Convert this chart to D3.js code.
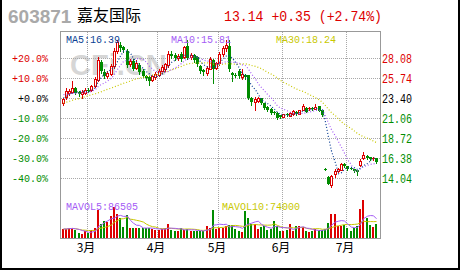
<!DOCTYPE html>
<html>
<head>
<meta charset="utf-8">
<script src="https://cdn.jsdelivr.net/npm/d3@7"></script>
<style>
body { margin: 0; background: #fff; }
svg { display: block; }
.mono { font-family: "Liberation Mono", "DejaVu Sans Mono", monospace; }
.cjk { font-family: "Noto Sans CJK SC", sans-serif; }
</style>
</head>
<body>
<svg id="chart" width="460" height="270"></svg>
<script>
// daily bars, oldest first
const opens = [22.9, 23.6, 24.0, 24.2, 24.6, 24.2, 23.9, 24.1, 24.4, 24.4, 24.9, 25.6, 27.7, 26.5, 26.0, 26.3, 27.2, 28.9, 29.7, 29.4,
  29.0, 27.4, 27.8, 27.0, 27.3, 26.6, 26.0, 25.9, 25.6, 25.9, 26.1, 26.6, 26.8, 27.3, 28.6, 28.5, 28.1, 28.6, 28.2, 29.6,
  28.2, 28.5, 28.3, 27.2, 26.7, 26.4, 26.9, 27.9, 27.0, 27.5, 28.6, 29.3, 29.6, 26.4, 26.2, 26.6, 25.9, 26.2, 26.1, 23.5,
  22.95, 23.15, 23.45, 22.85, 22.4, 22.2, 21.8, 21.7, 21.45, 21.25, 21.62, 21.35, 21.6, 21.85, 21.6, 22.05, 22.3, 22.15, 22.3, 22.2,
  22.5, 22.05, 15.15, 14.25, 13.3, 14.6, 14.9, 15.05, 15.74, 15.45, 15.3, 15.15, 15.0, 15.62, 16.44, 16.67, 16.5, 16.32, 16.4];
const highs = [23.5, 24.6, 24.5, 25.5, 24.8, 24.3, 24.4, 24.6, 24.6, 25.0, 25.9, 28.2, 27.9, 26.8, 26.6, 27.4, 29.3, 30.3, 30.0, 29.6,
  29.2, 28.0, 28.0, 27.9, 27.5, 26.8, 26.2, 26.0, 26.2, 26.5, 26.8, 27.3, 27.6, 29.0, 28.9, 28.7, 28.6, 28.8, 29.6, 30.3,
  28.7, 28.6, 28.4, 27.3, 26.9, 27.2, 28.3, 28.0, 27.7, 28.8, 29.6, 30.2, 30.2, 26.5, 26.4, 26.8, 26.9, 26.3, 26.2, 23.6,
  23.6, 23.6, 23.5, 22.9, 22.5, 22.25, 21.9, 21.8, 21.5, 21.6, 21.7, 21.8, 22.0, 21.95, 22.1, 22.72, 22.35, 22.35, 22.35, 22.72,
  22.55, 22.1, 15.25, 14.3, 14.5, 15.1, 15.3, 15.9, 15.85, 15.5, 15.4, 15.2, 15.05, 16.3, 17.18, 16.75, 16.56, 16.5, 16.44];
const lows = [22.6, 23.3, 23.8, 24.0, 23.9, 23.7, 23.5, 23.9, 24.2, 24.3, 24.8, 25.4, 26.4, 25.8, 25.8, 26.1, 27.0, 28.7, 29.0, 28.8,
  27.1, 27.2, 26.7, 26.8, 26.3, 25.9, 25.6, 25.0, 25.4, 25.7, 26.0, 26.4, 26.6, 27.1, 28.1, 27.9, 27.9, 27.8, 28.1, 28.0,
  28.0, 27.7, 27.2, 26.4, 26.1, 26.2, 26.8, 25.2, 26.8, 27.3, 28.4, 29.0, 26.6, 25.4, 25.9, 25.8, 25.7, 25.7, 23.4, 22.6,
  22.1, 23.0, 22.8, 22.2, 21.95, 21.6, 21.6, 20.95, 21.15, 21.2, 21.4, 21.3, 21.5, 21.5, 21.55, 22.0, 21.8, 22.05, 22.1, 22.15,
  21.9, 21.35, 15.0, 13.35, 13.08, 14.22, 14.8, 15.0, 15.35, 15.05, 15.1, 14.85, 14.45, 15.5, 16.35, 16.35, 16.25, 16.25, 15.9];
const closes = [23.3, 24.3, 24.3, 24.6, 24.1, 23.9, 24.2, 24.4, 24.35, 24.9, 25.7, 27.9, 26.6, 26.0, 26.4, 27.2, 29.0, 30.0, 29.3, 29.1,
  27.3, 27.8, 26.9, 27.5, 26.5, 26.0, 25.8, 25.5, 26.0, 26.3, 26.6, 27.1, 27.4, 28.6, 28.4, 28.1, 28.4, 28.0, 29.4, 28.1,
  28.5, 27.9, 27.4, 26.6, 26.5, 27.0, 28.0, 26.9, 27.5, 28.6, 29.3, 29.7, 26.8, 26.2, 26.1, 26.0, 26.3, 25.9, 23.5, 23.0,
  23.4, 23.45, 22.9, 22.3, 22.0, 21.7, 21.75, 21.15, 21.25, 21.55, 21.45, 21.72, 21.9, 21.55, 22.05, 22.5, 21.85, 22.29, 22.2, 22.45,
  21.97, 21.45, 15.1, 13.4, 14.33, 14.95, 15.2, 15.74, 15.45, 15.15, 15.25, 14.9, 14.75, 16.1, 16.79, 16.44, 16.32, 16.44, 15.96];
const volumes = [40500, 41200, 45000, 45600, 36000, 22500, 18000, 31500, 22500, 36000, 45000, 126000, 63000, 76500, 72000, 99000, 139500, 108000, 90000, 49500,
  103500, 45000, 44600, 45200, 45000, 44800, 45000, 45300, 40500, 36000, 36000, 40500, 45000, 63000, 36000, 31500, 31500, 45000, 36000, 40500,
  31500, 31500, 31200, 31500, 31800, 54000, 45000, 126000, 40500, 45000, 45000, 54000, 58500, 58500, 40500, 31500, 27000, 121500, 90000, 63000,
  63000, 40500, 49500, 54000, 36000, 40500, 76500, 54000, 31500, 31500, 36000, 63000, 31500, 54000, 54000, 49500, 31500, 27000, 31500, 40500,
  36000, 36000, 40500, 67500, 108000, 108000, 54000, 54000, 58500, 45000, 33000, 44000, 55000, 130475, 171000, 90000, 58500, 50000, 63025];

// moving averages before enough history is on screen
const ma5Head = [23.45, 23.7, 23.9, 24.05];
const ma10Head = [23.85, 23.9, 23.95, 24.0, 24.0, 24.0, 24.05, 24.05, 24.1];
const ma30Head = [22.87, 22.97, 23.08, 23.2, 23.3, 23.41, 23.52, 23.63, 23.74, 23.85, 23.96, 24.08, 24.2, 24.35, 24.48,
  24.62, 24.77, 24.9, 25.05, 25.18, 25.32, 25.45, 25.58, 25.68, 25.79, 25.88, 25.98, 26.06, 26.15];

const priceTicks = [28.08, 25.74, 23.40, 21.06, 18.72, 16.38, 14.04];
const basePrice = 23.40;
const monthStarts = [8, 30, 49, 69, 89];
const monthLabels = ["3月", "4月", "5月", "6月", "7月"];

const RED = "#dd0000", GREEN = "#008c00";
const N = closes.length;
const svg = d3.select("#chart");

const x = d3.scaleBand().domain(d3.range(N)).range([61.4, 378.3]);
const cx = i => Math.floor(x(i) + x.bandwidth() / 2);
const y = d3.scaleLinear().domain([priceTicks[6], priceTicks[0]]).range([178.5, 58.5]);
const yVol = d3.scaleLinear().domain([0, d3.max(volumes)]).range([238, 200]);

function movingAvg(vals, n, head) {
  return vals.map((v, i) => {
    if (i < n - 1) return head ? head[i] : d3.mean(vals.slice(0, i + 1));
    return d3.mean(vals.slice(i - n + 1, i + 1));
  });
}
const ma5 = movingAvg(closes, 5, ma5Head);
const ma10 = movingAvg(closes, 10, ma10Head);
const ma30 = movingAvg(closes, 30, ma30Head);
const mavol5 = movingAvg(volumes, 5);
const mavol10 = movingAvg(volumes, 10);

// outer black border
svg.append("path").attr("d", "M1,0V269H459V0").attr("fill", "none")
  .attr("stroke", "#000").attr("stroke-width", 2);

// header
svg.append("text").attr("x", 8).attr("y", 23)
  .style("font-family", "'Liberation Sans', Arial, sans-serif").style("font-weight", "bold")
  .style("font-size", "19px").attr("fill", "#a9a9a9").text("603871");
svg.append("text").attr("class", "cjk").attr("x", 77).attr("y", 21)
  .style("font-size", "16px").attr("fill", "#000").text("嘉友国际");
svg.append("text").attr("class", "mono").attr("x", 224).attr("y", 21)
  .style("font-size", "14px").attr("fill", RED)
  .attr("textLength", 158).attr("lengthAdjust", "spacingAndGlyphs")
  .text("13.14 +0.35 (+2.74%)");

// watermark
svg.append("text").attr("x", 70).attr("y", 75)
  .style("font-family", "'Liberation Sans', Arial, sans-serif").style("font-weight", "bold")
  .style("font-size", "29px").attr("fill", "#d6d6d6").text("CFi.CN");

// grid
const grid = svg.append("g").attr("stroke", "#a8a8a8").attr("stroke-dasharray", "1,1")
  .attr("shape-rendering", "crispEdges");
grid.selectAll("line.h").data(priceTicks).join("line").attr("class", "h")
  .attr("x1", 61).attr("x2", 380).attr("y1", d => y(d)).attr("y2", d => y(d));
grid.selectAll("line.v").data(monthStarts).join("line").attr("class", "v")
  .attr("x1", d => Math.floor(x(d)) + 0.5).attr("x2", d => Math.floor(x(d)) + 0.5)
  .attr("y1", 32).attr("y2", 238);

// frame
svg.append("rect").attr("x", 60.5).attr("y", 31.5).attr("width", 320).attr("height", 207)
  .attr("fill", "none").attr("stroke", "#999").attr("shape-rendering", "crispEdges");

// axis labels
const pctText = p => {
  const v = (p / basePrice - 1) * 100;
  return (v < -0.001 ? "-" : "+") + Math.abs(v).toFixed(1) + "%";
};
const tickColor = p => p > basePrice + 0.001 ? RED : (p < basePrice - 0.001 ? GREEN : "#000");
svg.append("g").selectAll("text").data(priceTicks).join("text").attr("class", "mono")
  .attr("x", 48).attr("y", d => y(d) + 3.5).attr("text-anchor", "end")
  .style("font-size", "10px").attr("fill", tickColor).text(pctText);
svg.append("g").selectAll("text").data(priceTicks).join("text").attr("class", "mono")
  .attr("x", 382).attr("y", d => y(d) + 4.5)
  .attr("textLength", 30).attr("lengthAdjust", "spacingAndGlyphs")
  .style("font-size", "12px").attr("fill", tickColor).text(d => d.toFixed(2));
svg.append("g").selectAll("text").data(monthStarts).join("text").attr("class", "cjk")
  .attr("x", d => Math.floor(x(d)) - 1).attr("y", 251.5).attr("text-anchor", "middle")
  .style("font-size", "12px").attr("fill", "#000").text((d, i) => monthLabels[i]);

// volume bars
const isUp = i => closes[i] >= opens[i];
svg.append("g").attr("shape-rendering", "crispEdges").selectAll("rect").data(volumes).join("rect")
  .attr("x", (d, i) => cx(i) - 1).attr("width", 2)
  .attr("y", d => Math.round(yVol(d))).attr("height", d => 238 - Math.round(yVol(d)))
  .attr("fill", (d, i) => isUp(i) ? RED : GREEN);

// volume averages
const volLine = d3.line().x((d, i) => cx(i) + 0.5).y(d => yVol(d));
svg.append("path").datum(mavol10).attr("d", volLine).attr("fill", "none").attr("stroke", "#c8c800");
svg.append("path").datum(mavol5).attr("d", volLine).attr("fill", "none").attr("stroke", "#a55cf5");

// candles
const candles = svg.append("g").attr("shape-rendering", "crispEdges")
  .selectAll("g").data(d3.range(N)).join("g");
candles.append("line")
  .attr("x1", i => cx(i) + 0.5).attr("x2", i => cx(i) + 0.5)
  .attr("y1", i => Math.round(y(highs[i]))).attr("y2", i => Math.round(y(lows[i])) + 1)
  .attr("stroke", i => isUp(i) ? RED : GREEN);
candles.append("rect")
  .each(function(i) {
    const top = Math.round(y(Math.max(opens[i], closes[i])));
    const bot = Math.round(y(Math.min(opens[i], closes[i])));
    const r = d3.select(this);
    if (isUp(i) && bot - top >= 2) {
      r.attr("x", cx(i) - 0.5).attr("y", top + 0.5).attr("width", 2).attr("height", bot - top)
        .attr("fill", "#fff").attr("stroke", RED);
    } else {
      r.attr("x", cx(i) - 1).attr("y", top).attr("width", 3).attr("height", Math.max(bot - top, 1))
        .attr("fill", isUp(i) ? RED : GREEN);
    }
  });

// price moving averages
const maLine = d3.line().x((d, i) => cx(i) + 0.5).y(d => y(d));
const maSeries = [[ma30, "#c8c800"], [ma10, "#a55cf5"], [ma5, "#0b3f94"]];
svg.append("g").selectAll("path").data(maSeries).join("path")
  .attr("d", d => maLine(d[0])).attr("fill", "none").attr("stroke", d => d[1])
  .attr("stroke-width", 1.2).attr("stroke-dasharray", "1,2");

// legends
const legend = (txt, lx, ly, color) => svg.append("text").attr("class", "mono")
  .attr("x", lx).attr("y", ly).style("font-size", "11px").attr("fill", color)
  .attr("textLength", txt.length * 6).attr("lengthAdjust", "spacingAndGlyphs").text(txt);
legend("MA5:" + ma5[N - 1].toFixed(2), 66, 42.5, "#0b3f94");
legend("MA10:" + ma10[N - 1].toFixed(2), 171, 42.5, "#a55cf5");
legend("MA30:" + ma30[N - 1].toFixed(2), 276, 42.5, "#c8c800");
legend("MAVOL5:" + Math.round(mavol5[N - 1]), 66, 210, "#a55cf5");
legend("MAVOL10:" + Math.round(mavol10[N - 1]), 222, 210, "#c8c800");
</script>
</body>
</html>
